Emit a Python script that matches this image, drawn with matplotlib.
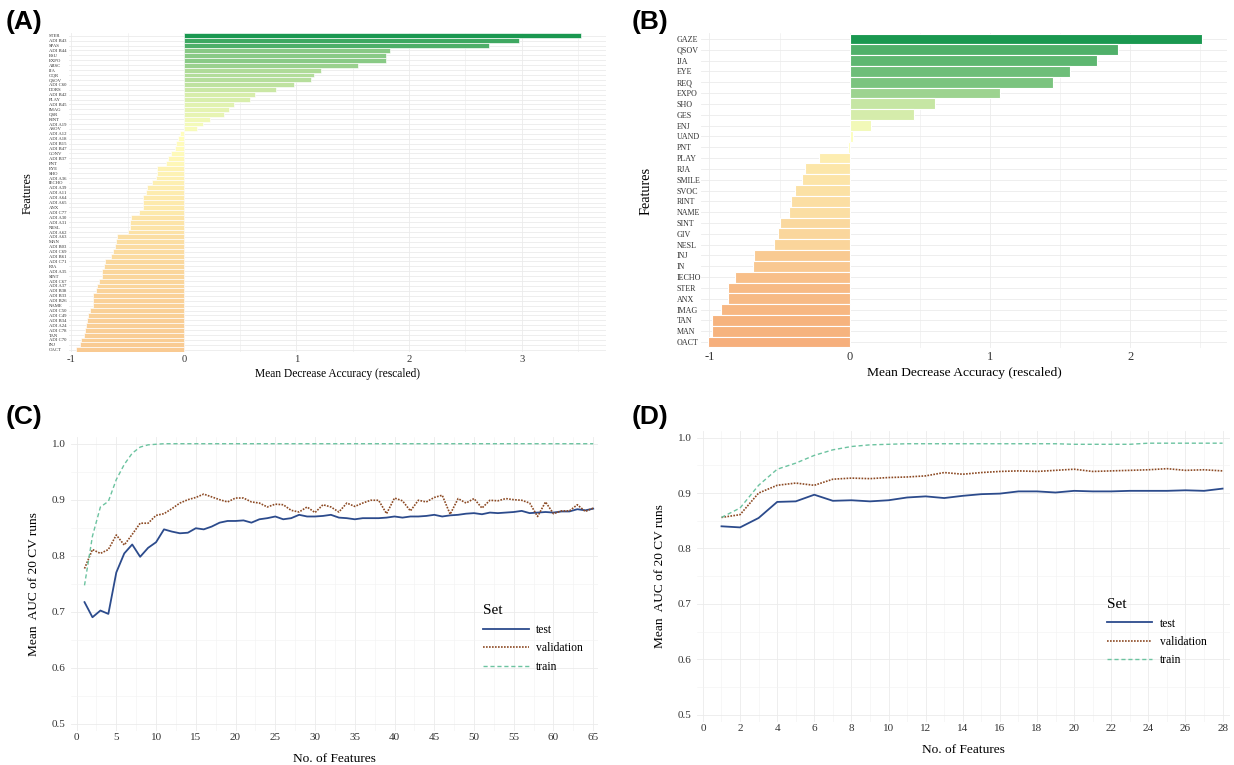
import numpy as np
import matplotlib
matplotlib.use("Agg")
import matplotlib.pyplot as plt
from matplotlib.colors import LinearSegmentedColormap
from matplotlib.ticker import MultipleLocator, FixedLocator

plt.rcParams['axes.unicode_minus'] = False
SERIF = ['Liberation Serif', 'DejaVu Serif']

# ---------------- data ----------------
feat_a = ["STER", "ADI B43", "SPAS", "ADI B44", "ESU", "EXPO", "ABSC", "IJA", "OQR", "QSOV",
          "ADI C60", "DORS", "ADI B42", "PLAY", "ADI B45", "IMAG", "QSR", "RINT", "ADI A19", "ASOV",
          "ADI A12", "ADI A18", "ADI B15", "ADI B47", "CONV", "ADI B37", "PNT", "EYE", "SHO", "ADI A36",
          "IECHO", "ADI A39", "ADI A11", "ADI A64", "ADI A65", "ANX", "ADI C77", "ADI A30", "ADI A31", "NESL",
          "ADI A62", "ADI A63", "MAN", "ADI B03", "ADI C69", "ADI B61", "ADI C71", "RJA", "ADI A35", "SINT",
          "ADI C67", "ADI A37", "ADI B38", "ADI B33", "ADI B26", "NAME", "ADI C50", "ADI C49", "ADI B34", "ADI A24",
          "ADI C78", "TAN", "ADI C70", "INJ", "OACT"]
mda_a = [3.53, 2.975, 2.71, 1.83, 1.80, 1.80, 1.55, 1.22, 1.16, 1.13,
         0.98, 0.82, 0.63, 0.59, 0.45, 0.40, 0.36, 0.23, 0.17, 0.12,
         -0.03, -0.05, -0.07, -0.08, -0.11, -0.14, -0.16, -0.24, -0.24, -0.25,
         -0.28, -0.33, -0.34, -0.36, -0.36, -0.36, -0.40, -0.47, -0.48, -0.48,
         -0.50, -0.59, -0.60, -0.61, -0.63, -0.65, -0.70, -0.71, -0.73, -0.73,
         -0.75, -0.77, -0.78, -0.81, -0.81, -0.81, -0.83, -0.85, -0.86, -0.87,
         -0.88, -0.89, -0.91, -0.92, -0.96]

feat_b = ["GAZE", "QSOV", "IJA", "EYE", "REQ", "EXPO", "SHO", "GES", "ENJ", "UAND",
          "PNT", "PLAY", "RJA", "SMILE", "SVOC", "RINT", "NAME", "SINT", "GIV", "NESL",
          "INJ", "IN", "IECHO", "STER", "ANX", "IMAG", "TAN", "MAN", "OACT"]
mda_b = [2.51, 1.91, 1.76, 1.57, 1.45, 1.07, 0.61, 0.46, 0.15, 0.025,
         -0.015, -0.22, -0.32, -0.34, -0.39, -0.42, -0.43, -0.50, -0.51, -0.54,
         -0.68, -0.69, -0.82, -0.865, -0.87, -0.92, -0.98, -0.98, -1.01]

nfeat_c = list(range(1, 66))
test_c = [0.717, 0.690, 0.702, 0.696, 0.770, 0.804, 0.820, 0.798, 0.814, 0.824,
          0.847, 0.843, 0.840, 0.841, 0.849, 0.847, 0.852, 0.859, 0.862, 0.862,
          0.863, 0.859, 0.865, 0.867, 0.870, 0.865, 0.867, 0.873, 0.870, 0.870,
          0.871, 0.873, 0.868, 0.867, 0.865, 0.867, 0.867, 0.867, 0.868, 0.870,
          0.868, 0.870, 0.870, 0.871, 0.873, 0.870, 0.872, 0.873, 0.875, 0.876,
          0.874, 0.877, 0.876, 0.877, 0.878, 0.880, 0.876, 0.877, 0.878, 0.877,
          0.879, 0.879, 0.883, 0.881, 0.884]
val_c = [0.777, 0.811, 0.804, 0.811, 0.837, 0.819, 0.838, 0.858, 0.858, 0.872,
         0.875, 0.884, 0.894, 0.900, 0.904, 0.910, 0.905, 0.900, 0.896, 0.903,
         0.903, 0.896, 0.894, 0.887, 0.892, 0.891, 0.881, 0.878, 0.887, 0.877,
         0.891, 0.887, 0.878, 0.894, 0.888, 0.894, 0.899, 0.899, 0.875, 0.903,
         0.898, 0.880, 0.899, 0.896, 0.904, 0.908, 0.874, 0.902, 0.894, 0.902,
         0.885, 0.899, 0.898, 0.902, 0.900, 0.899, 0.894, 0.870, 0.896, 0.875,
         0.880, 0.880, 0.891, 0.879, 0.885]
train_c = [0.747, 0.835, 0.887, 0.897, 0.936, 0.963, 0.983, 0.994, 0.998, 0.999,
           1.000, 1.000, 1.000, 1.000, 1.000, 1.000, 1.000, 1.000, 1.000, 1.000,
           1.000, 1.000, 1.000, 1.000, 1.000, 1.000, 1.000, 1.000, 1.000, 1.000,
           1.000, 1.000, 1.000, 1.000, 1.000, 1.000, 1.000, 1.000, 1.000, 1.000,
           1.000, 1.000, 1.000, 1.000, 1.000, 1.000, 1.000, 1.000, 1.000, 1.000,
           1.000, 1.000, 1.000, 1.000, 1.000, 1.000, 1.000, 1.000, 1.000, 1.000,
           1.000, 1.000, 1.000, 1.000, 1.000]

nfeat_d = list(range(1, 29))
test_d = [0.840, 0.838, 0.855, 0.884, 0.885, 0.897, 0.886, 0.887, 0.885, 0.887,
          0.892, 0.894, 0.891, 0.895, 0.898, 0.899, 0.903, 0.903, 0.901, 0.904,
          0.903, 0.903, 0.904, 0.904, 0.904, 0.905, 0.904, 0.908]
val_d = [0.856, 0.861, 0.900, 0.914, 0.918, 0.914, 0.925, 0.927, 0.926, 0.928,
         0.929, 0.931, 0.937, 0.934, 0.937, 0.939, 0.940, 0.939, 0.941, 0.943,
         0.939, 0.940, 0.941, 0.942, 0.944, 0.941, 0.942, 0.940]
train_d = [0.856, 0.873, 0.914, 0.943, 0.954, 0.968, 0.978, 0.984, 0.987, 0.988,
           0.989, 0.989, 0.989, 0.989, 0.989, 0.989, 0.989, 0.989, 0.989, 0.988,
           0.988, 0.988, 0.988, 0.990, 0.990, 0.990, 0.990, 0.990]

set_labels = ["test", "validation", "train"]

# ---------------- style ----------------
GRID = "#ebebeb"
TICK = "#4d4d4d"
cmap = LinearSegmentedColormap.from_list("mda", ["#e83a18", "#ffffbf", "#1a9850"])

W, H = 1234, 765
fig = plt.figure(figsize=(W / 100, H / 100), dpi=100)


def box(l, t, r, b):
    return [l / W, 1 - b / H, (r - l) / W, (b - t) / H]


def bar_panel(ax, names, vals, xlim, fs_lab, fs_tick, fs_title, pad_lab, edge_lw):
    n = len(names)
    y = np.arange(n)[::-1]
    m = max(abs(v) for v in vals)
    cols = [cmap(0.5 + v / (2 * m)) for v in vals]
    ax.set_xlim(*xlim)
    ax.set_ylim(-0.55, n - 0.45)
    ax.xaxis.set_major_locator(MultipleLocator(1))
    ax.xaxis.set_minor_locator(MultipleLocator(0.5))
    ax.set_yticks(y)
    ax.set_yticklabels(names, fontsize=fs_lab, family=SERIF, color="#333333", ha="left")
    ax.grid(True, which="major", color=GRID, lw=0.6, zorder=0)
    ax.grid(True, which="minor", axis="x", color=GRID, lw=0.4, zorder=0)
    ax.set_axisbelow(True)
    ax.barh(y, vals, height=1.0, color=cols, edgecolor="white", linewidth=edge_lw, zorder=2)
    for s in ax.spines.values():
        s.set_visible(False)
    ax.tick_params(axis="y", length=0, pad=pad_lab)
    ax.tick_params(axis="x", which="both", length=0, pad=2, labelsize=fs_tick, labelcolor="#333333")
    ax.xaxis.set_major_formatter(matplotlib.ticker.FuncFormatter(lambda v, p: "%d" % round(v)))
    for lab in ax.get_xticklabels():
        lab.set_family(SERIF)
    ax.set_xlabel("Mean Decrease Accuracy (rescaled)", fontsize=fs_title, family=SERIF, labelpad=3)
    ax.set_ylabel("Features", fontsize=fs_title + 0.6, family=SERIF, labelpad=2)


axA = fig.add_axes(box(69, 33, 606, 352.5))
bar_panel(axA, feat_a, mda_a, (-1.02, 3.75), 3.4, 7.6, 8.3, 14.4, 0.45)
axA.yaxis.set_label_coords(-0.066, 0.5)

axB = fig.add_axes(box(701, 33, 1227, 348))
bar_panel(axB, feat_b, mda_b, (-1.06, 2.69), 5.8, 9.0, 9.7, 17.3, 0.8)
axB.yaxis.set_label_coords(-0.093, 0.5)


def line_panel(ax, x, test, val, train, xlim, xstep, leg_xy):
    ax.set_xlim(*xlim)
    ax.set_ylim(0.4875, 1.012)
    ax.xaxis.set_major_locator(MultipleLocator(xstep))
    ax.xaxis.set_minor_locator(MultipleLocator(xstep / 2))
    ax.yaxis.set_major_locator(MultipleLocator(0.1))
    ax.yaxis.set_minor_locator(MultipleLocator(0.05))
    ax.grid(True, which="major", color=GRID, lw=0.6, zorder=0)
    ax.grid(True, which="minor", color="#f2f2f2", lw=0.4, zorder=0)
    ax.set_axisbelow(True)
    ax.plot(x, test, color="#2c4b8c", lw=1.3, label=set_labels[0], zorder=3)
    ax.plot(x, val, color="#8c4a24", lw=1.2, linestyle=(0, (1, 0.8)), label=set_labels[1], zorder=3)
    ax.plot(x, train, color="#6cc3a0", lw=1.0, linestyle=(0, (3, 2)), label=set_labels[2], zorder=3)
    for s in ax.spines.values():
        s.set_visible(False)
    ax.tick_params(which="both", length=0, labelsize=8, labelcolor="#333333")
    ax.tick_params(axis="x", pad=2)
    ax.tick_params(axis="y", pad=4)
    ax.yaxis.set_major_formatter(matplotlib.ticker.FormatStrFormatter("%.1f"))
    for lab in ax.get_xticklabels() + ax.get_yticklabels():
        lab.set_family(SERIF)
    ax.set_xlabel("No. of Features", fontsize=9.6, family=SERIF, labelpad=8)
    ax.set_ylabel("Mean  AUC of 20 CV runs", fontsize=9.6, family=SERIF, labelpad=8)
    leg = ax.legend(loc="upper left", bbox_to_anchor=leg_xy, frameon=False, title="Set",
                    prop={"family": SERIF, "size": 8.4}, handlelength=3.9, handletextpad=0.65,
                    labelspacing=0.55, borderpad=0, borderaxespad=0, alignment="left")
    leg.get_title().set_fontsize(11)
    leg.get_title().set_family(SERIF)


axC = fig.add_axes(box(71, 437, 598, 730.6))
line_panel(axC, nfeat_c, test_c, val_c, train_c, (-0.7, 65.6), 5, (0.782, 0.43))

axD = fig.add_axes(box(697, 431, 1230, 721.6))
line_panel(axD, nfeat_d, test_d, val_d, train_d, (-0.32, 28.4), 2, (0.769, 0.425))

for lab, (px, py) in zip(["(A)", "(B)", "(C)", "(D)"], [(6, 10), (632, 10), (6, 405), (632, 405)]):
    fig.text(px / W, 1 - py / H, lab, fontsize=19, fontweight="bold",
             family=["Liberation Sans", "DejaVu Sans"], va="top", ha="left")

fig.savefig("out.png", dpi=100)
